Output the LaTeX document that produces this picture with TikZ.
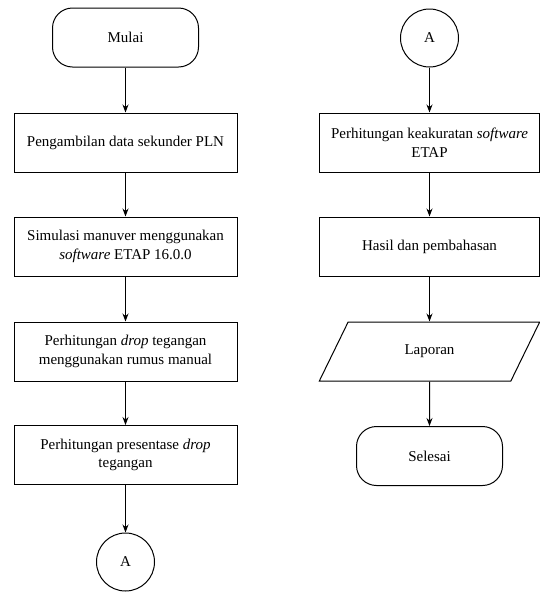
\documentclass[tikz,border=0pt]{standalone}
\usepackage{fontspec}
\setmainfont{Liberation Serif}
\usetikzlibrary{shapes.geometric, arrows.meta}

\begin{document}
\begin{tikzpicture}
			[
			x=1pt, y=1pt,
			Terminal/.style={draw, rectangle, rounded corners=20pt, minimum width=146pt, minimum height=59pt, align=center},	%Start und Ende
			Prozess/.style={draw, rectangle, minimum width=223pt, minimum height=59pt, align=center},							%Prozessschritt
			Verbinder/.style={draw, circle, minimum size=58pt, inner sep=0pt},												%Konnektor A
			Daten/.style={draw, trapezium, trapezium left angle=63, trapezium right angle=117, trapezium stretches=true, minimum width=221pt, minimum height=59pt},	%Ausgabe
			Pfeil/.style={-{Stealth[length=8pt, width=6pt]}},																%Verbindungspfeil
			every node/.style={font=\fontsize{15}{18.5}\selectfont},
			line width=1pt
			]

			%% Definitionen der Spalten %%
			\def\xLinks{125.5};		%Mitte der linken Spalte
			\def\xRechts{429.5};	%Mitte der rechten Spalte

			\useasboundingbox (0,0) rectangle (540,-592);

			%%%%%%%%%%%%%%%%%%%%%%%%%% Linke Spalte %%%%%%%%%%%%%%%%%%%%%%%%%%%%%%%
			\node[Terminal] (mulai)     at (\xLinks,-37.5) {Mulai};
			\node[Prozess]  (ambil)     at (\xLinks,-142.5) {Pengambilan data sekunder PLN};
			\node[Prozess]  (simulasi)  at (\xLinks,-246.5) {Simulasi manuver menggunakan\\\textit{software} ETAP 16.0.0};
			\node[Prozess]  (drop)      at (\xLinks,-351.5) {Perhitungan \textit{drop} tegangan\\menggunakan rumus manual};
			\node[Prozess]  (persen)    at (\xLinks,-455) {Perhitungan presentase \textit{drop}\\tegangan};
			\node[Verbinder] (aUnten)   at (\xLinks,-562) {A};

			%%%%%%%%%%%%%%%%%%%%%%%%%% Rechte Spalte %%%%%%%%%%%%%%%%%%%%%%%%%%%%%%
			\node[Verbinder] (aOben)    at (\xRechts,-38) {A};
			\node[Prozess, minimum width=220pt] (akurat) at (\xRechts,-142.5) {Perhitungan keakuratan \textit{software}\\ETAP};
			\node[Prozess, minimum width=220pt] (hasil)  at (\xRechts,-246.5) {Hasil dan pembahasan};
			\node[Daten]    (laporan)   at (\xRechts,-351.5) {Laporan};
			\node[Terminal] (selesai)   at (\xRechts,-456) {Selesai};

			% Pfeile
			\draw[Pfeil] (mulai) -- (ambil);
			\draw[Pfeil] (ambil) -- (simulasi);
			\draw[Pfeil] (simulasi) -- (drop);
			\draw[Pfeil] (drop) -- (persen);
			\draw[Pfeil] (persen) -- (aUnten);
			\draw[Pfeil] (aOben) -- (akurat);
			\draw[Pfeil] (akurat) -- (hasil);
			\draw[Pfeil] (hasil) -- (laporan);
			\draw[Pfeil] (laporan) -- (selesai);
		\end{tikzpicture}
\end{document}
